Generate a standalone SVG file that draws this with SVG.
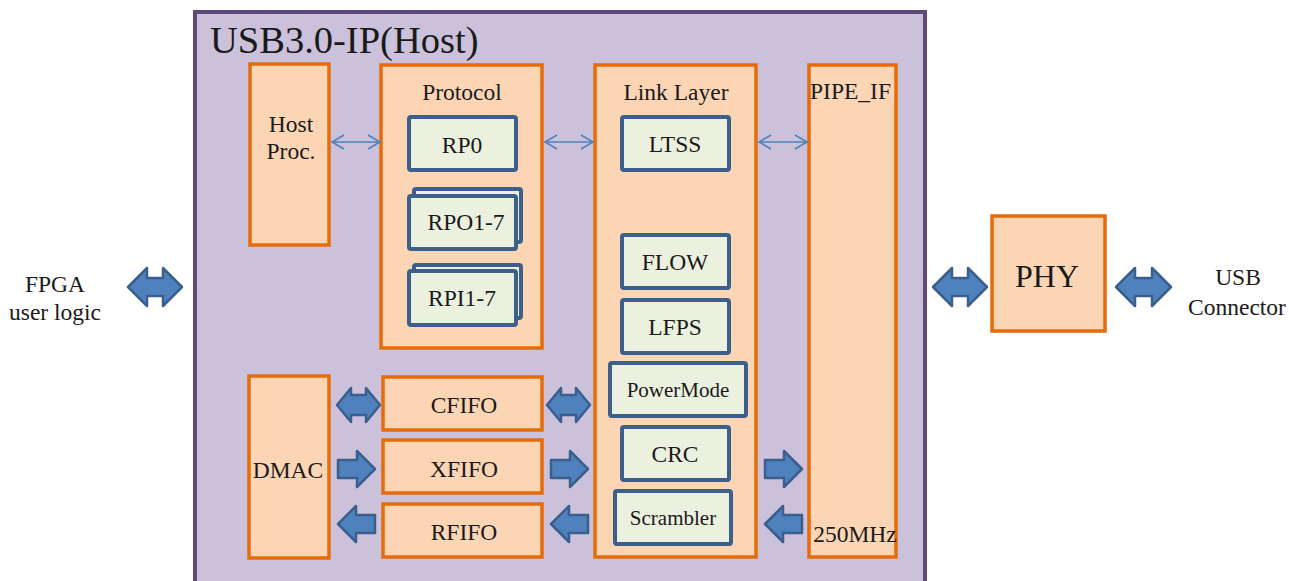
<svg xmlns="http://www.w3.org/2000/svg" width="1289" height="581" viewBox="0 0 1289 581">
<defs>
<style>
text{font-family:"Liberation Serif","DejaVu Serif","Times New Roman",serif;fill:#1a1a1a;text-anchor:middle}
.t{font-size:23.5px}
.s{font-size:21px}
.ob{fill:#fcd5b5;stroke:#e46c0a;stroke-width:3.5}
.ib{fill:#ebf1de;stroke:#3c5f8c;stroke-width:4}
.ba{fill:#4f81bd;stroke:#3a5f8e;stroke-width:2.5;stroke-linejoin:round}
.ta{fill:none;stroke:#4f81bd;stroke-width:1.5}
</style>
<marker id="chev" markerUnits="userSpaceOnUse" markerWidth="16" markerHeight="18" refX="13" refY="8" orient="auto-start-reverse" viewBox="0 0 16 16">
<path d="M1,1 L13,8 L1,15" fill="none" stroke="#4f81bd" stroke-width="1.6"/>
</marker>
</defs>
<rect x="0" y="0" width="1289" height="581" fill="#ffffff"/>
<g id="usb-ip">
<rect x="195" y="12" width="730" height="600" fill="#ccc1da" stroke="#5f497a" stroke-width="4"/>
<text x="210" y="53" style="font-size:38.5px;text-anchor:start">USB3.0-IP(Host)</text>
</g>
<g id="host-proc">
<rect class="ob" x="250" y="64" width="79" height="181"/>
<text class="t" x="291" y="132">Host</text>
<text class="t" x="291" y="159">Proc.</text>
</g>
<g id="protocol">
<rect class="ob" x="381" y="65" width="161" height="283"/>
<text class="t" x="462" y="100">Protocol</text>
</g>
<g id="rp0">
<rect class="ib" x="409" y="117" width="107" height="53" rx="2"/>
<text class="t" x="462" y="153">RP0</text>
</g>
<g id="rpo1-7">
<rect class="ib" x="414" y="189" width="107" height="53" rx="2"/>
<rect class="ib" x="409" y="196" width="107" height="53" rx="2"/>
<text class="t" x="466" y="230">RPO1-7</text>
</g>
<g id="rpi1-7">
<rect class="ib" x="414" y="265" width="107" height="53" rx="2"/>
<rect class="ib" x="409" y="271" width="107" height="54" rx="2"/>
<text class="t" x="462" y="306">RPI1-7</text>
</g>
<g id="link-layer">
<rect class="ob" x="595" y="65" width="161" height="492"/>
<text class="t" x="676" y="100">Link Layer</text>
</g>
<g id="ltss">
<rect class="ib" x="622" y="117" width="107" height="53" rx="2"/>
<text class="t" x="675" y="152">LTSS</text>
</g>
<g id="flow">
<rect class="ib" x="622" y="235" width="107" height="53" rx="2"/>
<text class="t" x="675" y="270">FLOW</text>
</g>
<g id="lfps">
<rect class="ib" x="622" y="300" width="107" height="53" rx="2"/>
<text class="t" x="675" y="335">LFPS</text>
</g>
<g id="powermode">
<rect class="ib" x="610" y="363" width="136" height="53" rx="2"/>
<text class="s" x="678" y="397">PowerMode</text>
</g>
<g id="crc">
<rect class="ib" x="622" y="427" width="107" height="53" rx="2"/>
<text class="t" x="675" y="462">CRC</text>
</g>
<g id="scrambler">
<rect class="ib" x="615" y="491" width="116" height="53" rx="2"/>
<text class="s" x="673" y="525">Scrambler</text>
</g>
<g id="pipe-if">
<rect class="ob" x="809" y="65" width="87" height="492"/>
<text class="t" x="810" y="99" style="text-anchor:start">PIPE_IF</text>
<text class="t" x="855" y="542">250MHz</text>
</g>
<g id="dmac">
<rect class="ob" x="249" y="376" width="80" height="182"/>
<text class="t" x="288" y="478">DMAC</text>
</g>
<g id="cfifo">
<rect class="ob" x="383" y="377" width="159" height="53"/>
<text class="t" x="464" y="413">CFIFO</text>
</g>
<g id="xfifo">
<rect class="ob" x="383" y="440" width="159" height="53"/>
<text class="t" x="464" y="477">XFIFO</text>
</g>
<g id="rfifo">
<rect class="ob" x="383" y="504" width="159" height="53"/>
<text class="t" x="464" y="540">RFIFO</text>
</g>
<g id="phy">
<rect class="ob" x="992" y="216" width="113" height="115"/>
<text x="1047" y="287" style="font-size:32px">PHY</text>
</g>
<g id="fpga">
<text class="t" x="55" y="292">FPGA</text>
<text class="t" x="55" y="320">user logic</text>
</g>
<g id="usb-connector">
<text class="t" x="1238" y="285">USB</text>
<text class="t" x="1237" y="315">Connector</text>
</g>
<g id="connectors">
<line class="ta" x1="332" y1="142" x2="380" y2="142" marker-start="url(#chev)" marker-end="url(#chev)"/>
<line class="ta" x1="545" y1="142" x2="593" y2="142" marker-start="url(#chev)" marker-end="url(#chev)"/>
<line class="ta" x1="759" y1="142" x2="807" y2="142" marker-start="url(#chev)" marker-end="url(#chev)"/>
<path class="ba" d="M128,287 L147,268 L147,278 L163,278 L163,268 L182,287 L163,306 L163,296 L147,296 L147,306 Z"/>
<path class="ba" d="M933,287 L952,268 L952,278 L968,278 L968,268 L987,287 L968,306 L968,296 L952,296 L952,306 Z"/>
<path class="ba" d="M1116,287 L1135,268 L1135,278 L1152,278 L1152,268 L1171,287 L1152,306 L1152,296 L1135,296 L1135,306 Z"/>
<path class="ba" d="M337,405 L351,388 L351,395 L366,395 L366,388 L380,405 L366,422 L366,415 L351,415 L351,422 Z"/>
<path class="ba" d="M547,405 L561,388 L561,395 L576,395 L576,388 L590,405 L576,422 L576,415 L561,415 L561,422 Z"/>
<path class="ba" d="M338,460 L357,460 L357,451 L375,469 L357,487 L357,478 L338,478 Z"/>
<path class="ba" d="M551,460 L570,460 L570,451 L588,469 L570,487 L570,478 L551,478 Z"/>
<path class="ba" d="M765,460 L784,460 L784,451 L802,469 L784,487 L784,478 L765,478 Z"/>
<path class="ba" d="M375,515 L356,515 L356,506 L338,524 L356,542 L356,533 L375,533 Z"/>
<path class="ba" d="M588,515 L569,515 L569,506 L551,524 L569,542 L569,533 L588,533 Z"/>
<path class="ba" d="M802,515 L783,515 L783,506 L765,524 L783,542 L783,533 L802,533 Z"/>
</g>
</svg>
